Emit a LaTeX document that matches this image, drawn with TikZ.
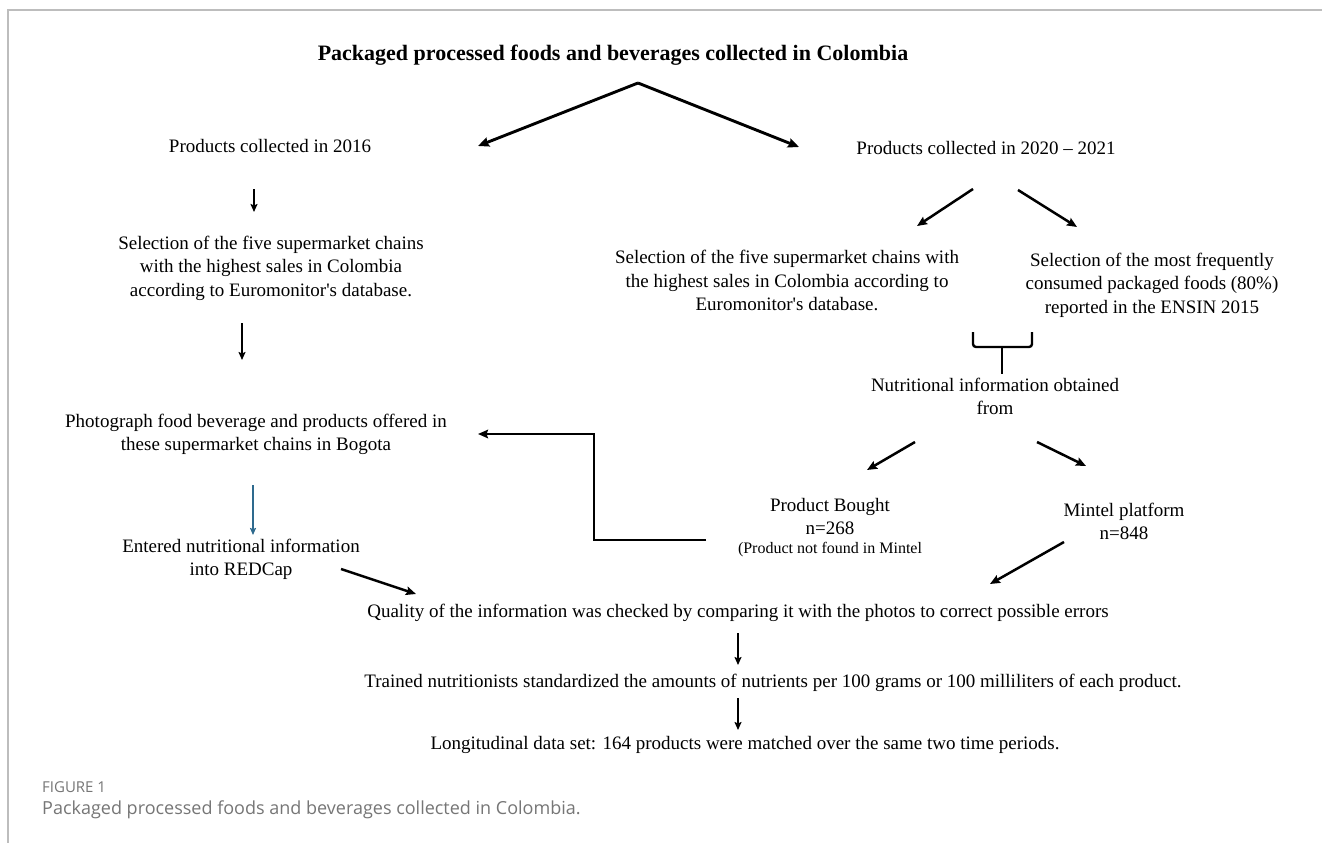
\documentclass[tikz,border=0pt]{standalone}
\usepackage{fontspec}
\setmainfont{Liberation Serif}
\newfontfamily\capfont{Open Sans}
\usetikzlibrary{arrows.meta}
\definecolor{bordergray}{HTML}{BDBDBD}
\definecolor{capgray}{HTML}{767676}
\definecolor{arrowblue}{HTML}{2E6A8E}
\begin{document}
\begin{tikzpicture}[x=1pt,y=-1pt,
  txt/.style={align=center, inner sep=0pt, font=\fontsize{19}{23.5}\selectfont},
  smalltxt/.style={align=center, inner sep=0pt, font=\fontsize{16}{19}\selectfont},
  titletxt/.style={align=center, inner sep=0pt, font=\fontsize{22}{26}\selectfont\bfseries},
  arr/.style={-{Stealth[length=10pt,width=8.5pt,inset=1.5pt]}, line width=2.5pt},
  bigarr/.style={-{Stealth[length=11pt,width=9.5pt,inset=1.5pt]}, line width=2.9pt},
  thinarr/.style={-{Stealth[length=8pt,width=7pt,inset=1.5pt]}, line width=1.9pt},
  bluearr/.style={-{Stealth[length=7pt,width=6pt,inset=1pt]}, line width=1.4pt, draw=arrowblue},
  elbow/.style={line width=2.8pt},
  brace/.style={line width=2.4pt, rounded corners=3pt},
  frame/.style={draw=bordergray, line width=1.5pt},
  capsmall/.style={anchor=west, inner sep=0pt, text=capgray, font=\capfont\fontsize{15}{17}\selectfont},
  captxt/.style={anchor=west, inner sep=0pt, text=capgray, font=\capfont\fontsize{18}{21}\selectfont}]
\useasboundingbox (0,0) rectangle (1322,843);
\fill[white] (0,0) rectangle (1322,843);
% frame lines
\coordinate (ftl) at (8,10);
\coordinate (ftr) at (1322,10);
\coordinate (fbl) at (8,843);
\draw[frame] (ftr) -- (ftl) -- (fbl);

% text nodes
\node[titletxt] (title) at (613,55) {Packaged processed foods and beverages collected in Colombia};
\node[txt] (p2016) at (270,146) {Products collected in 2016};
\node[txt] (p2020) at (986,148) {Products collected in 2020 -- 2021};
\node[txt] (selL) at (271,268) {Selection of the five supermarket chains\\with the highest sales in Colombia\\according to Euromonitor\textquotesingle s database.};
\node[txt] (photo) at (256,434.5) {Photograph food beverage and products offered in\\these supermarket chains in Bogota};
\node[txt] (entered) at (241,559.5) {Entered nutritional information\\into REDCap};
\node[txt] (selM) at (787,280.5) {Selection of the five supermarket chains with\\the highest sales in Colombia according to\\Euromonitor\textquotesingle s database.};
\node[txt] (selR) at (1152,285) {Selection of the most frequently\\consumed packaged foods (80\%)\\reported in the ENSIN 2015};
\node[txt] (nutr) at (995,396.5) {Nutritional information obtained\\from};
\node[txt] (bought) at (830,516.5) {Product Bought\\n=268};
\node[smalltxt] (boughtnote) at (830,550) {(Product not found in Mintel};
\node[txt] (mintel) at (1124,521.5) {Mintel platform\\n=848};
\node[txt] (quality) at (738,613) {Quality of the information was checked by comparing it with the photos to correct possible errors};
\node[txt] (trained) at (773,683) {Trained nutritionists standardized the amounts of nutrients per 100 grams or 100 milliliters of each product.};
\node[txt] (longi) at (745,745) {Longitudinal data set: 164 products were matched over the same two time periods.};
\node[capsmall] (figlabel) at (42,787) {FIGURE 1};
\node[captxt] (caption) at (42,810) {Packaged processed foods and beverages collected in Colombia.};

% connector end points
\coordinate (apex) at (638,83);
\coordinate (tipL) at (478,146);
\coordinate (tipR) at (799,147);
\coordinate (a1s) at (254,189);
\coordinate (a1e) at (254,212);
\coordinate (a2s) at (242,323);
\coordinate (a2e) at (242,360);
\coordinate (elb1) at (706,540);
\coordinate (elb2) at (594,540);
\coordinate (elb3) at (594,434);
\coordinate (elbtip) at (478,434);
\coordinate (b1s) at (253,485);
\coordinate (b1e) at (253,535);
\coordinate (r1s) at (341,569);
\coordinate (r1e) at (416,594);
\coordinate (m1s) at (973,189);
\coordinate (m1e) at (917,226);
\coordinate (m2s) at (1018,190);
\coordinate (m2e) at (1077,227);
\coordinate (brL) at (973,332);
\coordinate (brLb) at (973,347);
\coordinate (brRb) at (1032,347);
\coordinate (brR) at (1032,332);
\coordinate (brS) at (1002,347);
\coordinate (brE) at (1002,374);
\coordinate (n1s) at (915,442);
\coordinate (n1e) at (867,470);
\coordinate (n2s) at (1037,442);
\coordinate (n2e) at (1086,466);
\coordinate (mq1) at (1064,542);
\coordinate (mq2) at (990,584);
\coordinate (q1s) at (738,633);
\coordinate (q1e) at (738,665);
\coordinate (t1s) at (738,698);
\coordinate (t1e) at (738,730);

% connectors
\draw[bigarr] (apex) -- (tipL);
\draw[bigarr] (apex) -- (tipR);
\draw[thinarr] (a1s) -- (a1e);
\draw[thinarr] (a2s) -- (a2e);
\draw[elbow, -{Stealth[length=10pt,width=8.5pt,inset=1.5pt]}] (elb1) -- (elb2) -- (elb3) -- (elbtip);
\draw[bluearr] (b1s) -- (b1e);
\draw[arr] (r1s) -- (r1e);
\draw[arr] (m1s) -- (m1e);
\draw[arr] (m2s) -- (m2e);
\draw[brace] (brL) -- (brLb) -- (brRb) -- (brR);
\draw[line width=2.4pt] (brS) -- (brE);
\draw[arr] (n1s) -- (n1e);
\draw[arr] (n2s) -- (n2e);
\draw[arr] (mq1) -- (mq2);
\draw[thinarr] (q1s) -- (q1e);
\draw[thinarr] (t1s) -- (t1e);
\end{tikzpicture}
\end{document}
